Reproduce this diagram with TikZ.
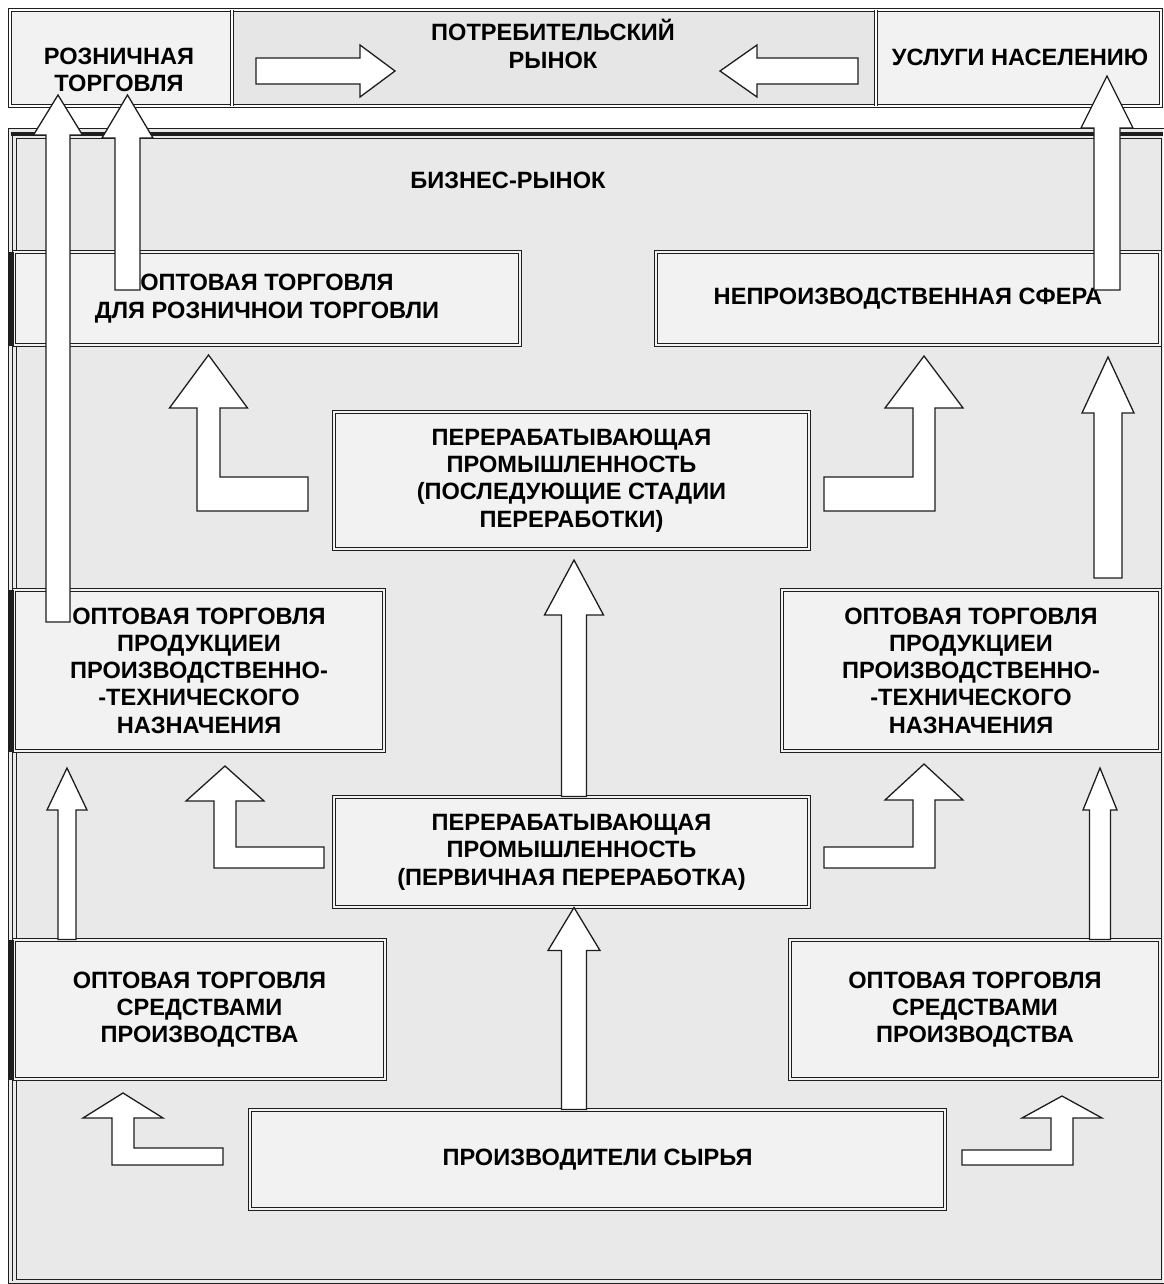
\documentclass[tikz,border=0pt]{standalone}
\usepackage{fontspec}
\setmainfont{Liberation Sans}
\usetikzlibrary{calc}
\definecolor{areagray}{HTML}{E9E9E9}
\definecolor{boxgray}{HTML}{F2F2F2}
\definecolor{bandgray}{HTML}{E6E6E6}
\definecolor{linegray}{HTML}{1E1E1E}
\tikzset{
  txt/.style={align=center, inner sep=0pt, font=\bfseries\fontsize{23.6}{27.3}\selectfont},
  dbl/.style={draw=linegray, line width=1pt, double=boxgray, double distance=2.4pt},
  box/.style={txt, dbl, fill=boxgray},
  cell/.style={inner sep=0pt, minimum height=92pt},
  frameline/.style={draw=linegray, line width=1pt},
  blk/.style={draw=linegray, line width=1.3pt, fill=white, line join=miter},
}
% block arrows: #1 foot, #2 tip, then half widths and head length
\newcommand\blockup[5]{%
  \draw[blk] let \p1=(#1), \p2=(#2) in
    (\x1-#3pt,\y1) -- (\x1-#3pt,\y2-#5pt) -- (\x1-#4pt,\y2-#5pt) -- (\x1,\y2)
    -- (\x1+#4pt,\y2-#5pt) -- (\x1+#3pt,\y2-#5pt) -- (\x1+#3pt,\y1) -- cycle;}
\newcommand\blockright[5]{%
  \draw[blk] let \p1=(#1), \p2=(#2) in
    (\x1,\y1+#3pt) -- (\x2-#5pt,\y1+#3pt) -- (\x2-#5pt,\y1+#4pt) -- (\x2,\y1)
    -- (\x2-#5pt,\y1-#4pt) -- (\x2-#5pt,\y1-#3pt) -- (\x1,\y1-#3pt) -- cycle;}
\newcommand\blockleft[5]{%
  \draw[blk] let \p1=(#1), \p2=(#2) in
    (\x1,\y1+#3pt) -- (\x2+#5pt,\y1+#3pt) -- (\x2+#5pt,\y1+#4pt) -- (\x2,\y1)
    -- (\x2+#5pt,\y1-#4pt) -- (\x2+#5pt,\y1-#3pt) -- (\x1,\y1-#3pt) -- cycle;}
% bent arrows: #1 end of bar, #2 tip, #3 bar half, #4 shaft half, #5 head half, #6 head length
\newcommand\bendleft[6]{%
  \draw[blk] let \p1=(#1), \p2=(#2) in
    (\x1,\y1+#3pt) -- (\x2+#4pt,\y1+#3pt) -- (\x2+#4pt,\y2-#6pt) -- (\x2+#5pt,\y2-#6pt)
    -- (\x2,\y2) -- (\x2-#5pt,\y2-#6pt) -- (\x2-#4pt,\y2-#6pt) -- (\x2-#4pt,\y1-#3pt)
    -- (\x1,\y1-#3pt) -- cycle;}
\newcommand\bendright[6]{%
  \draw[blk] let \p1=(#1), \p2=(#2) in
    (\x1,\y1+#3pt) -- (\x2-#4pt,\y1+#3pt) -- (\x2-#4pt,\y2-#6pt) -- (\x2-#5pt,\y2-#6pt)
    -- (\x2,\y2) -- (\x2+#5pt,\y2-#6pt) -- (\x2+#4pt,\y2-#6pt) -- (\x2+#4pt,\y1-#3pt)
    -- (\x1,\y1-#3pt) -- cycle;}

\begin{document}
\begin{tikzpicture}[x=1pt, y=-1pt]
  \useasboundingbox (0,0) rectangle (1163,1284);
  \fill[white] (0,0) rectangle (1163,1284);

  % consumer market band
  \node[cell, fill=boxgray, minimum width=218pt] (retail) at (121,58) {};
  \node[cell, fill=bandgray, minimum width=640pt] (consumer) at (554,58) {};
  \node[cell, fill=boxgray, minimum width=282pt] (services) at (1019,58) {};
  \draw[dbl, double=white] (10.2,10.2) rectangle (1161,105.8);
  \draw[dbl, double=white] (232,10) -- (232,106);
  \draw[dbl, double=white] (876,10) -- (876,106);
  \node[txt] (retailtxt) at (119,70) {РОЗНИЧНАЯ\\ТОРГОВЛЯ};
  \node[txt] (consumertxt) at (553,44) {ПОТРЕБИТЕЛЬСКИЙ\\РЫНОК};
  \node[txt] (servicestxt) at (1020,57) {УСЛУГИ НАСЕЛЕНИЮ};

  % business market frame
  \fill[areagray] (8,128) rectangle (1163,1284);
  \draw[frameline] (8.5,128.5) rectangle (1166,1283);
  \draw[frameline] (12,134) -- (12,1281);
  \draw[linegray, line width=3.5pt] (10.5,134) -- (1163,134);
  \draw[frameline] (16.5,138.5) rectangle (1161.5,1279.5);
  \node[txt] (business) at (508,180) {БИЗНЕС-РЫНОК};

  % boxes
  \node[box, minimum width=506pt, minimum height=93pt] (rtw) at (267,298.5)
    {ОПТОВАЯ ТОРГОВЛЯ\\ДЛЯ РОЗНИЧНОИ ТОРГОВЛИ};
  \node[box, minimum width=504pt, minimum height=93pt] (nps) at (908,298.5)
    {НЕПРОИЗВОДСТВЕННАЯ СФЕРА};
  \node[box, minimum width=475pt, minimum height=137pt] (post) at (571.5,480.5)
    {ПЕРЕРАБАТЫВАЮЩАЯ\\ПРОМЫШЛЕННОСТЬ\\(ПОСЛЕДУЮЩИЕ СТАДИИ\\ПЕРЕРАБОТКИ)};
  \node[box, minimum width=370pt, minimum height=161pt] (ptl) at (199,670.5)
    {ОПТОВАЯ ТОРГОВЛЯ\\ПРОДУКЦИЕИ\\ПРОИЗВОДСТВЕННО-\\-ТЕХНИЧЕСКОГО\\НАЗНАЧЕНИЯ};
  \node[box, minimum width=378pt, minimum height=161pt] (ptr) at (971,670.5)
    {ОПТОВАЯ ТОРГОВЛЯ\\ПРОДУКЦИЕИ\\ПРОИЗВОДСТВЕННО-\\-ТЕХНИЧЕСКОГО\\НАЗНАЧЕНИЯ};
  \node[box, minimum width=475pt, minimum height=110pt] (prim) at (571.5,852)
    {ПЕРЕРАБАТЫВАЮЩАЯ\\ПРОМЫШЛЕННОСТЬ\\(ПЕРВИЧНАЯ ПЕРЕРАБОТКА)};
  \node[box, minimum width=371pt, minimum height=139pt] (swl) at (199.5,1009.5)
    {ОПТОВАЯ ТОРГОВЛЯ\\СРЕДСТВАМИ\\ПРОИЗВОДСТВА};
  \node[box, minimum width=370pt, minimum height=139pt] (swr) at (975,1009.5)
    {ОПТОВАЯ ТОРГОВЛЯ\\СРЕДСТВАМИ\\ПРОИЗВОДСТВА};
  \node[box, minimum width=695pt, minimum height=99pt] (raw) at (597.5,1159.5)
    {ПРОИЗВОДИТЕЛИ СЫРЬЯ};

  % left edge bars
  \foreach \b in {rtw, ptl, swl}
    \draw[linegray, line width=6pt] (11,0 |- \b.north) -- (11,0 |- \b.south);

  % arrows in the band
  \blockright{256,71}{395,71}{13}{26}{35}
  \blockleft{858,71}{720,71}{13}{26}{37}

  % straight arrows
  \blockup{574,0 |- prim.north}{574,560}{12.5}{29.5}{55}
  \blockup{574,0 |- raw.north}{574,0 |- prim.south}{12.5}{26}{43}
  \blockup{67,0 |- swl.north}{67,768}{9}{20}{42}
  \blockup{1100,0 |- swr.north}{1100,768}{10.5}{17}{42}
  \blockup{1108,578}{1108,357}{14}{26}{56}

  % bent arrows
  \bendleft{308,494}{208.5,355}{17}{11.5}{39}{53}
  \bendright{824,494}{924,356}{17}{11}{39}{52}
  \bendleft{324,857.5}{225,766}{10.5}{11}{39}{35}
  \bendright{824,857.5}{924,764}{10.5}{11}{39}{36}
  \bendleft{223,1156.5}{123,1093}{8.5}{11}{40}{25}
  \bendright{962,1157.5}{1062,1096}{7.5}{11}{40}{22}

  % long arrows to the consumer market
  \blockup{58,622}{58,95}{12}{24.5}{40}
  \blockup{127.5,290}{127.5,95}{12.5}{25.5}{43}
  \blockup{1107,290}{1107,76}{13}{26}{52}
\end{tikzpicture}
\end{document}
